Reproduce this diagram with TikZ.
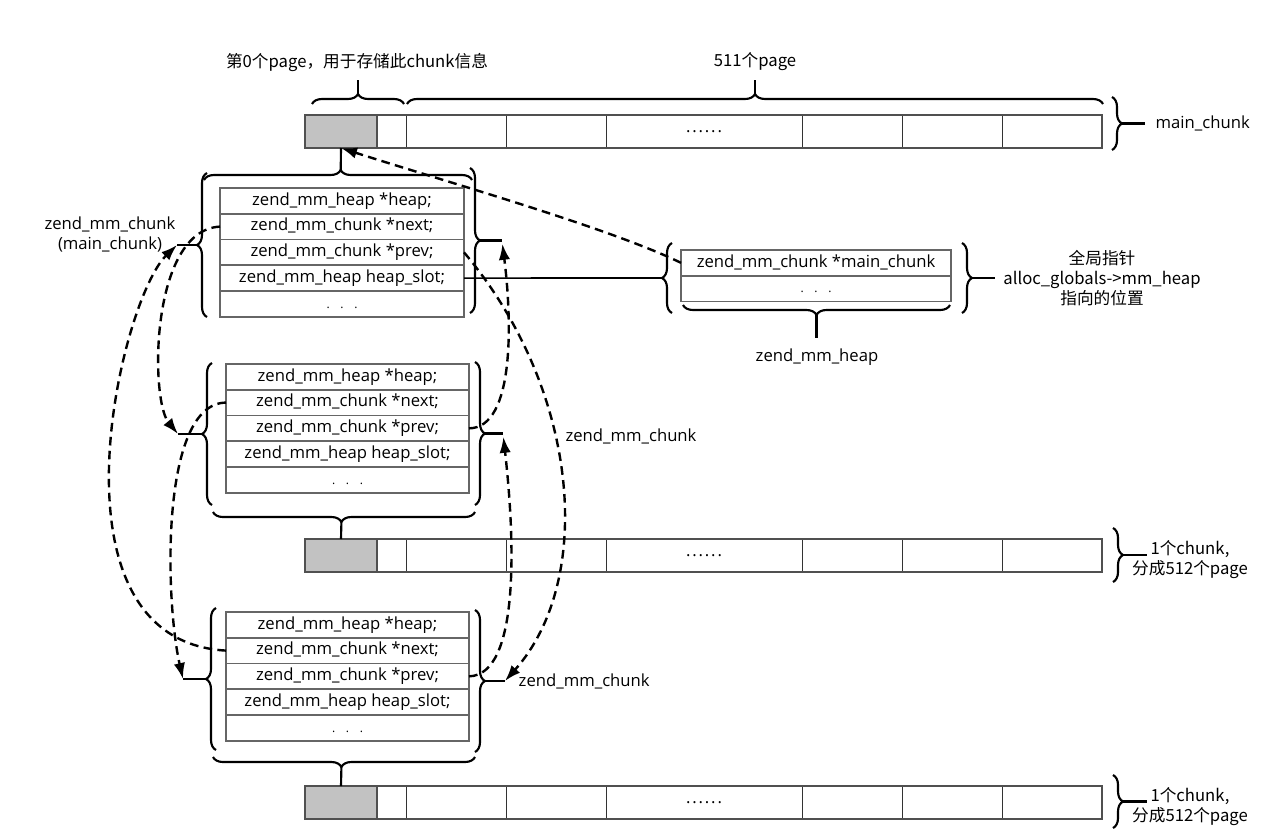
\documentclass[tikz,border=0pt]{standalone}
\usepackage{fontspec}
\setmainfont{Open Sans}
\newfontfamily\cjk{Noto Sans CJK SC}
\usetikzlibrary{positioning,arrows.meta,decorations.pathreplacing}

\definecolor{fieldgray}{HTML}{666666}
\definecolor{rimgray}{HTML}{505050}
\definecolor{pagegray}{HTML}{C2C2C2}

\def\fielddots{{\fontsize{9}{9}\selectfont .\hspace{8pt}.\hspace{8pt}.}}
\def\pagedots{.\kern1.4pt.\kern1.4pt.\kern1.4pt.\kern1.4pt.\kern1.4pt.}

\tikzset{
  field/.style={draw=fieldgray, line width=1.3pt, outer sep=0pt, inner sep=0pt,
    minimum height=19.3pt, text height=9.5pt, text depth=3pt},
  pagecell/.style={draw=black!80, line width=0.7pt, outer sep=0pt, inner sep=0pt,
    minimum height=24.75pt},
  curly/.style={decorate, decoration={brace, amplitude=7.5pt}, line width=1.6pt},
  tipline/.style={line width=1.6pt},
  cjklabel/.style={align=center, font=\cjk\fontsize{12.5}{15}\selectfont},
  ptr/.style={-{Latex[length=12pt,width=8.5pt]}, line width=1.8pt, dash pattern=on 6.5pt off 4pt}
}

% one chunk header: name, centre x, top y, width
\def\chunkfields#1#2#3#4{%
\node [field, minimum width=#4, anchor=north] (#1heap) at (#2,#3) {zend\_mm\_heap *heap;};
\node [field, minimum width=#4, below=0pt of #1heap] (#1next) {zend\_mm\_chunk *next;};
\node [field, minimum width=#4, below=0pt of #1next] (#1prev) {zend\_mm\_chunk *prev;};
\node [field, minimum width=#4, below=0pt of #1prev] (#1slot) {zend\_mm\_heap heap\_slot;};
\node [field, minimum width=#4, below=0pt of #1slot] (#1dots) {\fielddots};
}

% one chunk of pages: name, top y
\def\pagerow#1#2{%
\node [pagecell, fill=pagegray, minimum width=54pt, anchor=north west] (#1p0) at (305,#2) {};
\node [pagecell, minimum width=21.75pt, right=0pt of #1p0] (#1p1) {};
\node [pagecell, minimum width=75pt, right=0pt of #1p1] (#1p2) {};
\node [pagecell, minimum width=75pt, right=0pt of #1p2] (#1p3) {};
\node [pagecell, minimum width=147pt, right=0pt of #1p3] (#1p4) {\pagedots};
\node [pagecell, minimum width=75pt, right=0pt of #1p4] (#1p5) {};
\node [pagecell, minimum width=75pt, right=0pt of #1p5] (#1p6) {};
\node [pagecell, minimum width=75pt, right=0pt of #1p6] (#1p7) {};
\draw [rimgray, line width=1.5pt] (#1p0.north west) rectangle (#1p7.south east);
\draw [rimgray, line width=1.5pt] (#1p0.north east) -- (#1p0.south east);
}

\begin{document}
\begin{tikzpicture} [x=0.75pt, y=-0.75pt, font=\fontsize{12.5}{15}\selectfont]
\useasboundingbox (0,0) rectangle (1280,839);

\pagerow{r1}{115}
\pagerow{r2}{539}
\pagerow{r3}{786}

\chunkfields{c1}{342}{188}{183pt}
\chunkfields{c2}{347.5}{364}{182.25pt}
\chunkfields{c3}{347.5}{612}{182.25pt}

\node [field, minimum width=202.5pt, anchor=north] (hmc) at (816,250) {zend\_mm\_chunk *main\_chunk};
\node [field, minimum width=202.5pt, below=0pt of hmc] (hdots) {\fielddots};


% the main chunk
\draw [curly] (312,104) -- (404,104);
\draw [tipline] (358,94) -- (358,80);
\node [cjklabel] (lpage0) at (357,62) {第0个page，用于存储此chunk信息};

\draw [curly] (407,104) -- (1103,104);
\draw [tipline] (755,94) -- (755,80);
\node [cjklabel] (lpages) at (755,62) {511个page};

\draw [curly] (1112,97) -- (1112,150);
\draw [tipline] (1122,123.5) -- (1145,123.5);
\node [anchor=west] (lmain) at (1151,123) {main\_chunk};

\draw [curly, decoration={aspect=0.51}] (204,180) -- (472,180);
\draw [tipline] (340.7,170) -- (r1p0.south);

\coordinate (k1l) at (177,245);
\draw [curly] (207,317) -- (207,173);
\draw [tipline] (197,245) -- (k1l);
\coordinate (k1r) at (502,240.5);
\draw [curly] (470,168) -- (470,313);
\draw [tipline] (480,240.5) -- (k1r);
\node [align=center] (lchunk1) at (110,234) {zend\_mm\_chunk\\(main\_chunk)};


% the heap
\coordinate (hpl) at (662,278);
\draw [curly] (672,313) -- (672,243);
\draw [line width=1.2pt] (c1slot.east) -- (hpl);

\draw [curly] (950,305) -- (683,305);
\draw [tipline] (816.5,315) -- (816.5,338);
\node (lheap) at (817,357) {zend\_mm\_heap};

\draw [curly] (962,243) -- (962,313);
\draw [tipline] (972,278) -- (995,278);
\node [cjklabel] (lglobal) at (1102,278) {全局指针\\alloc\_globals->mm\_heap\\指向的位置};


% the second chunk
\coordinate (k2l) at (178,434);
\draw [curly] (212,505) -- (212,363);
\draw [tipline] (202,434) -- (k2l);
\coordinate (k2r) at (503,433.5);
\draw [curly] (475,362) -- (475,505);
\draw [tipline] (485,433.5) -- (k2r);
\node (lchunk2) at (631,436) {zend\_mm\_chunk};

\draw [curly, decoration={aspect=0.51}] (475,512) -- (213,512);
\draw [tipline] (341.4,522) -- (r2p0.north);
\draw [curly] (1113,528) -- (1113,582);
\draw [tipline] (1123,555) -- (1147,555);
\node [cjklabel] (lrow2) at (1190,560) {1个chunk,\\分成512个page};


% the third chunk
\coordinate (k3l) at (183,679);
\draw [curly] (216,750) -- (216,608);
\draw [tipline] (206,679) -- (k3l);
\coordinate (k3r) at (505,681);
\draw [curly] (475,610) -- (475,752);
\draw [tipline] (485,681) -- (k3r);
\node [anchor=west] (lchunk3) at (514,681) {zend\_mm\_chunk};

\draw [curly, decoration={aspect=0.51}] (475,757) -- (213,757);
\draw [tipline] (341.4,767) -- (r3p0.north);
\draw [curly] (1113,775) -- (1113,828);
\draw [tipline] (1123,801.5) -- (1147,801.5);
\node [cjklabel] (lrow3) at (1190,807) {1个chunk,\\分成512个page};


% next / prev pointers
\draw [ptr] (hmc.west) .. controls (610,228) and (440,180) .. (r1p0.south);
\draw [ptr] (c1next.west) .. controls (150,230) and (150,400) .. (k2l);
\draw [ptr] (c2next.west) .. controls (160,403) and (165,600) .. (k3l);
\draw [ptr] (c3next.west) .. controls (40,640) and (120,300) .. (k1l);
\draw [ptr] (c1prev.east) .. controls (580,390) and (595,580) .. (k3r);
\draw [ptr, shorten >=2.5pt] (c2prev.east) .. controls (515,428) and (512,320) .. (k1r);
\draw [ptr, shorten >=2.5pt] (c3prev.east) .. controls (520,675) and (515,540) .. (k2r);

%\draw [help lines] (0,0) grid (1280,839);
\end{tikzpicture}
\end{document}
